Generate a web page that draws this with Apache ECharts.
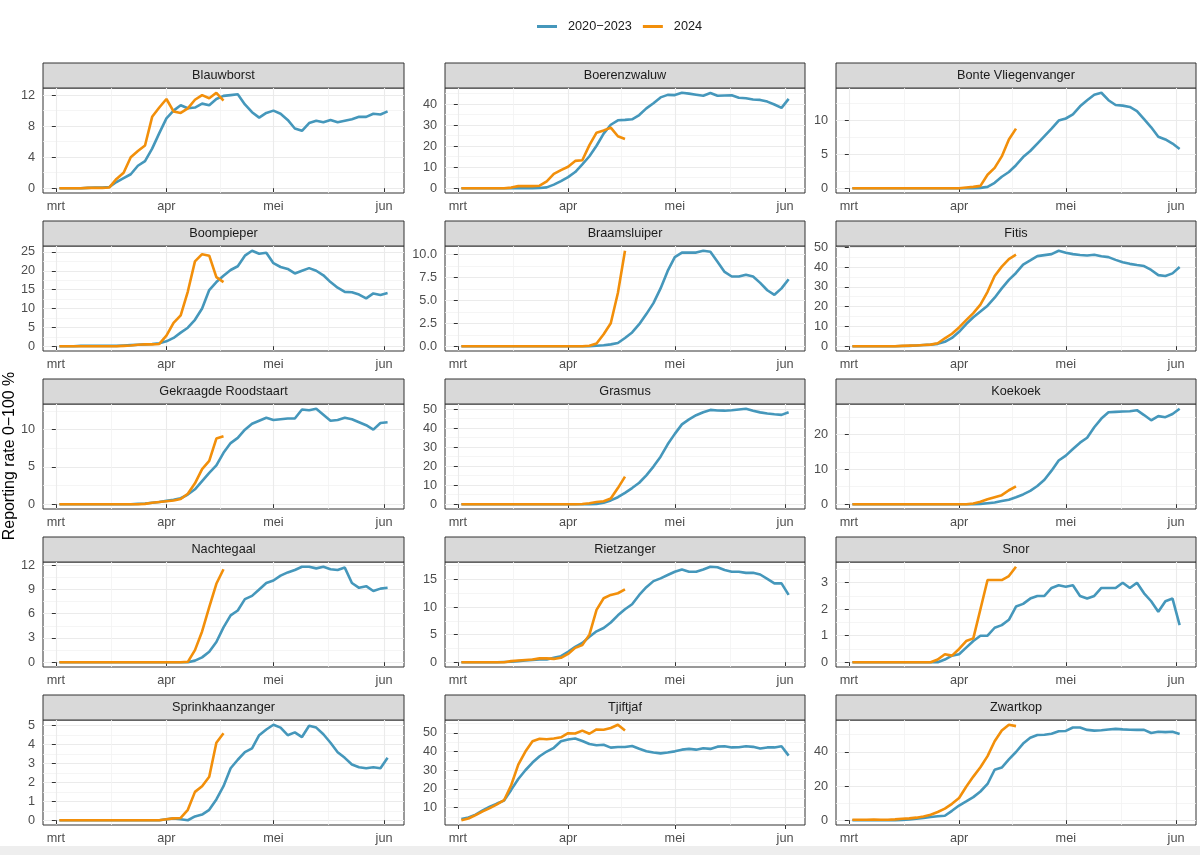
<!DOCTYPE html>
<html><head><meta charset="utf-8">
<script src="https://cdn.jsdelivr.net/npm/echarts@6/dist/echarts.min.js"></script>
<style>html,body{margin:0;padding:0;background:#fff}#chart{width:1200px;height:855px}</style>
</head><body><div id="chart"></div>
<script>
// ---- DATA (days since 1 March; every second day) ----
const days = [1,3,5,7,9,11,13,15,17,19,21,23,25,27,29,31,33,35,37,39,41,43,45,47,49,51,53,55,57,59,61,63,65,67,69,71,73,75,77,79,81,83,85,87,89,91,93];
const monthTicks = [0, 31, 61, 92];
const monthLabels = ['mrt', 'apr', 'mei', 'jun'];
const seriesNames = ['2020\u22122023', '2024'];
const speciesNames = ['Blauwborst','Boerenzwaluw','Bonte Vliegenvanger','Boompieper','Braamsluiper','Fitis','Gekraagde Roodstaart','Grasmus','Koekoek','Nachtegaal','Rietzanger','Snor','Sprinkhaanzanger','Tjiftjaf','Zwartkop'];

const blauwborstRef = [0,0,0,0,0.05,0.1,0.1,0.15,0.8,1.3,1.8,2.9,3.5,5.1,7.1,9.0,10.0,10.7,10.3,10.4,10.9,10.7,11.5,11.9,12.0,12.1,10.8,9.8,9.1,9.7,10.0,9.6,8.8,7.7,7.4,8.4,8.7,8.5,8.8,8.5,8.7,8.9,9.2,9.2,9.6,9.5,9.9];
const blauwborst2024 = [0,0,0,0,0.05,0.05,0.05,0.1,1.2,2.0,4.0,4.8,5.5,9.2,10.4,11.5,9.9,9.7,10.3,11.4,12.0,11.6,12.3,11.3];
const blauwborstTicks = [0,4,8,12];

const boerenzwaluwRef = [0,0,0,0,0,0,0,0,0,0,0,0.1,0.4,1.7,3.4,5.3,7.7,11.3,15.2,20.2,26.0,30.2,32.3,32.5,32.8,34.8,38.0,40.4,43.2,44.4,44.3,45.4,45.0,44.5,44.0,45.3,44.0,44.1,44.2,43.0,42.8,42.2,42.0,41.2,39.8,38.2,42.5];
const boerenzwaluw2024 = [0,0,0,0,0,0,0,0.3,1.0,1.0,1.0,1.2,3.3,6.8,8.6,10.2,13.0,13.3,20.5,26.4,27.5,28.8,24.7,23.4];
const boerenzwaluwTicks = [0,10,20,30,40];

const bonteRef = [0,0,0,0,0,0,0,0,0,0,0,0,0,0,0,0,0,0,0.05,0.2,0.8,1.7,2.4,3.4,4.6,5.5,6.6,7.7,8.8,10.0,10.3,10.9,12.1,13.0,13.8,14.1,13.0,12.3,12.2,12.0,11.4,10.2,9.0,7.6,7.2,6.6,5.8];
const bonte2024 = [0,0,0,0,0,0,0,0,0,0,0,0,0,0,0,0,0.1,0.2,0.35,2.0,3.0,4.7,7.2,8.8];
const bonteTicks = [0,5,10];

const boompieperRef = [0,0,0,0.1,0.1,0.1,0.1,0.1,0.1,0.2,0.3,0.4,0.5,0.6,0.8,1.3,2.2,3.6,4.9,7.0,10.0,14.9,17.0,18.7,20.2,21.2,24.0,25.3,24.5,24.8,22.0,21.0,20.5,19.3,20.0,20.7,20.0,18.8,17.0,15.5,14.4,14.3,13.7,12.7,14.0,13.6,14.1];
const boompieper2024 = [0,0,0,0,0,0,0,0,0,0.1,0.2,0.4,0.5,0.5,0.6,2.8,6.2,8.2,14.5,22.5,24.4,24.0,18.3,17.0];
const boompieperTicks = [0,5,10,15,20,25];

const braamsluiperRef = [0,0,0,0,0,0,0,0,0,0,0,0,0,0,0,0,0,0,0,0.05,0.1,0.2,0.35,0.9,1.5,2.4,3.5,4.7,6.3,8.2,9.7,10.2,10.2,10.2,10.4,10.3,9.2,8.1,7.6,7.6,7.8,7.6,6.9,6.1,5.6,6.3,7.3];
const braamsluiper2024 = [0,0,0,0,0,0,0,0,0,0,0,0,0,0,0,0,0,0,0.05,0.3,1.3,2.5,5.8,10.4];
const braamsluiperTicks = [0,2.5,5,7.5,10];

const fitisRef = [0,0,0,0,0,0,0,0.1,0.2,0.4,0.6,0.8,1.2,2.2,4.2,7.3,11.2,14.6,17.5,20.5,24.5,29.2,33.5,37.0,41.2,43.3,45.5,46.0,46.5,48.2,47.2,46.5,46.1,45.8,46.2,45.4,45.0,43.6,42.4,41.6,41.0,40.5,38.5,35.9,35.5,36.8,40.0];
const fitis2024 = [0,0,0,0,0,0,0,0.2,0.3,0.4,0.6,0.8,1.5,4.0,6.3,9.5,13.2,16.7,21.0,27.5,35.5,40.2,44.0,46.2];
const fitisTicks = [0,10,20,30,40,50];

const gekraagdeRef = [0,0,0,0,0,0,0,0,0,0,0,0.05,0.1,0.2,0.3,0.45,0.6,0.8,1.3,2.0,3.1,4.2,5.2,6.9,8.2,8.9,10.0,10.8,11.2,11.6,11.3,11.4,11.5,11.5,12.7,12.6,12.8,12.0,11.2,11.3,11.6,11.4,11.0,10.6,10.0,10.9,11.0];
const gekraagde2024 = [0,0,0,0,0,0,0,0,0,0,0,0,0.05,0.2,0.3,0.4,0.5,0.7,1.4,2.8,4.7,5.8,8.8,9.1];
const gekraagdeTicks = [0,5,10];

const grasmusRef = [0,0,0,0,0,0,0,0,0,0,0,0,0,0,0,0,0,0,0,0.2,0.8,2.0,3.7,6.0,8.5,11.3,15.2,19.8,25.0,31.5,37.0,42.0,44.6,46.8,48.4,49.6,49.3,49.2,49.4,49.8,50.2,49.2,48.3,47.7,47.3,47.0,48.4];
const grasmus2024 = [0,0,0,0,0,0,0,0,0,0,0,0,0,0,0,0,0,0.1,0.5,1.2,1.6,3.0,8.5,14.5];
const grasmusTicks = [0,10,20,30,40,50];

const koekoekRef = [0,0,0,0,0,0,0,0,0,0,0,0,0,0,0,0,0,0,0.1,0.3,0.5,0.9,1.3,2.0,2.8,3.8,5.2,7.0,9.6,12.5,13.9,15.8,17.6,19.0,22.0,24.5,26.3,26.4,26.5,26.6,26.9,25.5,24.0,25.2,24.9,25.8,27.3];
const koekoek2024 = [0,0,0,0,0,0,0,0,0,0,0,0,0,0,0,0,0,0.2,0.7,1.4,2.0,2.6,4.0,5.1];
const koekoekTicks = [0,10,20];

const nachtegaalRef = [0,0,0,0,0,0,0,0,0,0,0,0,0,0,0,0,0,0,0,0.2,0.6,1.3,2.5,4.3,5.8,6.4,7.8,8.2,9.0,9.8,10.1,10.7,11.1,11.4,11.8,11.8,11.6,11.8,11.5,11.4,11.7,9.8,9.2,9.4,8.8,9.1,9.2];
const nachtegaal2024 = [0,0,0,0,0,0,0,0,0,0,0,0,0,0,0,0,0,0,0.05,1.5,3.8,6.8,9.7,11.5];
const nachtegaalTicks = [0,3,6,9,12];

const rietzangerRef = [0,0,0,0,0,0,0.05,0.1,0.2,0.3,0.4,0.5,0.5,0.8,1.1,1.9,2.8,3.5,4.6,5.6,6.2,7.2,8.5,9.6,10.5,12.2,13.6,14.7,15.2,15.8,16.4,16.8,16.4,16.4,16.8,17.3,17.2,16.7,16.4,16.4,16.2,16.2,15.9,15.1,14.3,14.3,12.2];
const rietzanger2024 = [0,0,0,0,0,0,0,0.2,0.3,0.4,0.5,0.7,0.7,0.6,0.8,1.5,2.6,3.1,5.0,9.5,11.6,12.2,12.5,13.2];
const rietzangerTicks = [0,5,10,15];

const snorRef = [0,0,0,0,0,0,0,0,0,0,0,0,0,0.1,0.25,0.3,0.55,0.8,1.0,1.0,1.3,1.4,1.6,2.1,2.2,2.4,2.5,2.5,2.8,2.9,2.85,2.9,2.5,2.4,2.5,2.8,2.8,2.8,3.0,2.8,3.0,2.6,2.3,1.9,2.3,2.4,1.4];
const snor2024 = [0,0,0,0,0,0,0,0,0,0,0,0,0.1,0.3,0.25,0.5,0.8,0.9,2.0,3.1,3.1,3.1,3.25,3.6];
const snorTicks = [0,1,2,3];

const sprinkhaanRef = [0,0,0,0,0,0,0,0,0,0,0,0,0,0,0,0.05,0.1,0.05,0.0,0.2,0.3,0.55,1.1,1.8,2.75,3.2,3.6,3.8,4.5,4.8,5.05,4.9,4.5,4.65,4.4,5.0,4.9,4.55,4.1,3.6,3.3,2.95,2.8,2.75,2.8,2.75,3.3];
const sprinkhaan2024 = [0,0,0,0,0,0,0,0,0,0,0,0,0,0,0,0.05,0.1,0.12,0.55,1.5,1.8,2.3,4.1,4.6];
const sprinkhaanTicks = [0,1,2,3,4,5];

const tjiftjafRef = [4.0,4.8,6.3,8.5,10.5,12.2,13.8,19.5,25.3,30.0,34.1,37.5,40.0,42.0,45.5,46.4,47.0,45.6,44.0,43.4,43.6,42.1,42.4,42.4,43.0,41.5,40.2,39.5,39.0,39.5,40.1,41.0,41.4,41.0,41.8,41.4,42.6,42.8,42.2,42.3,42.8,42.5,41.6,42.2,42.2,42.8,37.8];
const tjiftjaf2024 = [3.3,4.2,6.0,8.0,9.8,11.8,14.0,22.0,33.0,40.0,45.5,46.8,46.6,47.0,47.6,49.8,49.6,51.2,49.5,51.8,51.6,52.6,54.3,51.2];
const tjiftjafTicks = [10,20,30,40,50];

const zwartkopRef = [0,0,0,0,0,0,0,0.2,0.5,0.9,1.3,1.9,2.3,2.6,5.5,8.6,11.0,13.5,16.8,21.2,29.5,30.8,35.6,39.9,44.8,48.2,49.8,50.0,50.6,52.0,52.2,54.2,54.2,52.8,52.4,52.6,53.0,53.4,53.1,52.9,52.8,52.8,51.0,51.7,51.5,51.7,50.4];
const zwartkop2024 = [0.3,0.3,0.3,0.4,0.3,0.3,0.5,0.9,1.1,1.5,2.2,3.2,4.8,6.8,9.6,13.0,19.6,25.5,31.0,37.5,46.2,52.4,55.8,55.0];
const zwartkopTicks = [0,20,40];

// ---- BUILD ----
const panels = [
  [blauwborstRef, blauwborst2024, blauwborstTicks],
  [boerenzwaluwRef, boerenzwaluw2024, boerenzwaluwTicks],
  [bonteRef, bonte2024, bonteTicks],
  [boompieperRef, boompieper2024, boompieperTicks],
  [braamsluiperRef, braamsluiper2024, braamsluiperTicks],
  [fitisRef, fitis2024, fitisTicks],
  [gekraagdeRef, gekraagde2024, gekraagdeTicks],
  [grasmusRef, grasmus2024, grasmusTicks],
  [koekoekRef, koekoek2024, koekoekTicks],
  [nachtegaalRef, nachtegaal2024, nachtegaalTicks],
  [rietzangerRef, rietzanger2024, rietzangerTicks],
  [snorRef, snor2024, snorTicks],
  [sprinkhaanRef, sprinkhaan2024, sprinkhaanTicks],
  [tjiftjafRef, tjiftjaf2024, tjiftjafTicks],
  [zwartkopRef, zwartkop2024, zwartkopTicks]
];

const BLUE = '#4597bb', ORANGE = '#f28f0a';
const FONT = '"Liberation Sans", Arial, sans-serif';
const colLeft = [43, 445, 836], colWidth = [361, 360, 360];
const rowTop = [88, 246, 404, 562, 720];
const plotH = 105, stripH = 25;
const TXT = 12.7;

const xSpan = days[days.length - 1] - days[0];
const xMin = days[0] - 0.05 * xSpan, xMax = days[days.length - 1] + 0.05 * xSpan;
const xMinor = [];
for (let k = 0; k < monthTicks.length - 1; k++) xMinor.push((monthTicks[k] + monthTicks[k + 1]) / 2);

const grids = [], xAxes = [], yAxes = [], series = [], graphics = [];

panels.forEach((p, i) => {
  const [ref, cur, ticks] = p;
  const row = Math.floor(i / 3), col = i % 3;
  const left = colLeft[col], width = colWidth[col], top = rowTop[row];
  grids.push({left: left, top: top, width: width, height: plotH, show: true,
    borderColor: '#333333', borderWidth: 1, backgroundColor: '#ffffff', containLabel: false, outerBoundsMode: 'none'});

  const all = ref.concat(cur);
  const lo0 = Math.min(...all), hi0 = Math.max(...all);
  const lo = lo0 - 0.05 * (hi0 - lo0), hi = hi0 + 0.05 * (hi0 - lo0);
  const step = ticks[1] - ticks[0];
  const cand = [ticks[0] - step / 2];
  for (let k = 0; k < ticks.length - 1; k++) cand.push((ticks[k] + ticks[k + 1]) / 2);
  cand.push(ticks[ticks.length - 1] + step / 2);
  const yMinor = cand.filter(v => v > lo && v < hi);
  const dec = ticks.some(v => Math.round(v) !== v) ? 1 : 0;

  xAxes.push({gridIndex: i, type: 'value', min: xMin, max: xMax,
    axisLine: {show: false},
    axisTick: {show: true, length: 4, lineStyle: {color: '#333333', width: 1}, customValues: monthTicks},
    axisLabel: {customValues: monthTicks, formatter: v => monthLabels[monthTicks.indexOf(v)],
      color: '#4d4d4d', fontSize: TXT, fontFamily: FONT, margin: 7},
    splitLine: {show: true, lineStyle: {color: '#ebebeb', width: 1.1}}});
  xAxes.push({gridIndex: i, type: 'value', min: xMin, max: xMax,
    axisLine: {show: false}, axisLabel: {show: false},
    axisTick: {show: false, customValues: xMinor},
    splitLine: {show: true, lineStyle: {color: '#f3f3f3', width: 0.8}}});
  yAxes.push({gridIndex: i, type: 'value', min: lo, max: hi,
    axisLine: {show: false},
    axisTick: {show: true, length: 4, lineStyle: {color: '#333333', width: 1}, customValues: ticks},
    axisLabel: {customValues: ticks, formatter: v => v.toFixed(dec),
      color: '#4d4d4d', fontSize: TXT, fontFamily: FONT, margin: 8},
    splitLine: {show: true, lineStyle: {color: '#ebebeb', width: 1.1}}});
  yAxes.push({gridIndex: i, type: 'value', min: lo, max: hi,
    axisLine: {show: false}, axisLabel: {show: false},
    axisTick: {show: false, customValues: yMinor},
    splitLine: {show: true, lineStyle: {color: '#f3f3f3', width: 0.8}}});

  series.push({type: 'line', name: seriesNames[0], xAxisIndex: 2 * i, yAxisIndex: 2 * i,
    data: ref.map((v, k) => [days[k], v]), symbol: 'none', showSymbol: false, z: 3,
    lineStyle: {color: BLUE, width: 2.6}, itemStyle: {color: BLUE}, silent: true});
  series.push({type: 'line', name: seriesNames[1], xAxisIndex: 2 * i, yAxisIndex: 2 * i,
    data: cur.map((v, k) => [days[k], v]), symbol: 'none', showSymbol: false, z: 4,
    lineStyle: {color: ORANGE, width: 2.6}, itemStyle: {color: ORANGE}, silent: true});

  graphics.push({type: 'rect', shape: {x: left, y: top - stripH, width: width, height: stripH},
    style: {fill: '#d9d9d9', stroke: '#333333', lineWidth: 1}, silent: true});
  graphics.push({type: 'text', x: left + width / 2, y: top - stripH / 2,
    style: {text: speciesNames[i], fill: '#1a1a1a', font: TXT + 'px ' + FONT, align: 'center', verticalAlign: 'middle'}, silent: true});
});

graphics.push({type: 'text', x: 10, y: 456, rotation: Math.PI / 2,
  style: {text: 'Reporting rate 0\u2212100 %', fill: '#000000', font: '15.9px ' + FONT, align: 'center', verticalAlign: 'middle'}, silent: true});
graphics.push({type: 'rect', shape: {x: 0, y: 846, width: 1200, height: 9}, style: {fill: '#eeeeee'}, silent: true});

const chart = echarts.init(document.getElementById('chart'), null, {renderer: 'canvas'});
chart.setOption({
  animation: false,
  backgroundColor: '#ffffff',
  textStyle: {fontFamily: FONT},
  legend: {data: seriesNames, top: 20, left: 537, padding: 0, itemGap: 11, icon: 'rect',
    itemWidth: 20, itemHeight: 3, selectedMode: false,
    textStyle: {color: '#1a1a1a', fontSize: TXT, fontFamily: FONT, padding: [3, 0, 0, 6]}},
  grid: grids, xAxis: xAxes, yAxis: yAxes, series: series, graphic: graphics
});
</script></body></html>
